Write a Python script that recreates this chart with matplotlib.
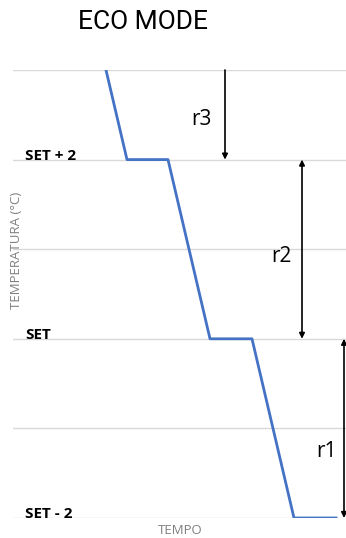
import matplotlib.pyplot as plt
from matplotlib import transforms

# temperature profile in eco mode (time in arbitrary units, temp relative to SET)
time = [93, 114, 155, 197, 239, 281, 323]
temp = [3, 2, 2, 0, 0, -2, -2]

levels = [-2, 0, 2]
level_labels = ['SET - 2', 'SET', 'SET + 2']

# r arrows: x position, start, end, double headed
ranges = ['r3', 'r2', 'r1']
range_x = [212, 289, 331]
range_from = [3, 2, 0]
range_to = [2, 0, -2]
range_both = [False, True, True]
label_pos = [(188, 2.45), (268, 0.92), (313, -1.26)]

fig = plt.figure(figsize=(3.46, 5.38), dpi=100)
ax = fig.add_axes([13 / 346, 20 / 538, 333 / 346, 448 / 538])

ax.plot(time, temp, color='#4472C4', linewidth=2)

ax.set_xlim(0, 333)
ax.set_ylim(-2, 3)
for y in range(-2, 4):
    ax.axhline(y, color='#D9D9D9', linewidth=1, zorder=0)

for name, x, y0, y1, both, pos in zip(ranges, range_x, range_from, range_to, range_both, label_pos):
    style = '<|-|>' if both else '-|>'
    ax.annotate('', xy=(x, y1), xytext=(x, y0),
                arrowprops=dict(arrowstyle=style, color='black', lw=1.2,
                                mutation_scale=8, shrinkA=0, shrinkB=0))
    ax.text(pos[0], pos[1], name, fontsize=15, ha='center', va='center',
            family='Open Sans')

trans = transforms.blended_transform_factory(ax.transAxes, ax.transData)
for y, lab in zip(levels, level_labels):
    ax.text(12 / 333, y, lab, transform=trans, fontsize=11, fontweight='bold',
            ha='left', va='baseline', family='Open Sans')

for s in ax.spines.values():
    s.set_visible(False)
ax.set_xticks([])
ax.set_yticks([])

fig.text(143 / 346, 1 - 22 / 538, 'ECO MODE', fontsize=19, ha='center',
         va='center', family='Roboto')
fig.text(17 / 346, 1 - 250 / 538, 'TEMPERATURA (°C)', rotation=90, fontsize=9.5,
         color='#808080', ha='center', va='center', family='Open Sans')
fig.text(180 / 346, 1 - 531 / 538, 'TEMPO', fontsize=9.5, color='#808080',
         ha='center', va='center', family='Open Sans')

fig.savefig('out.png', dpi=100)
